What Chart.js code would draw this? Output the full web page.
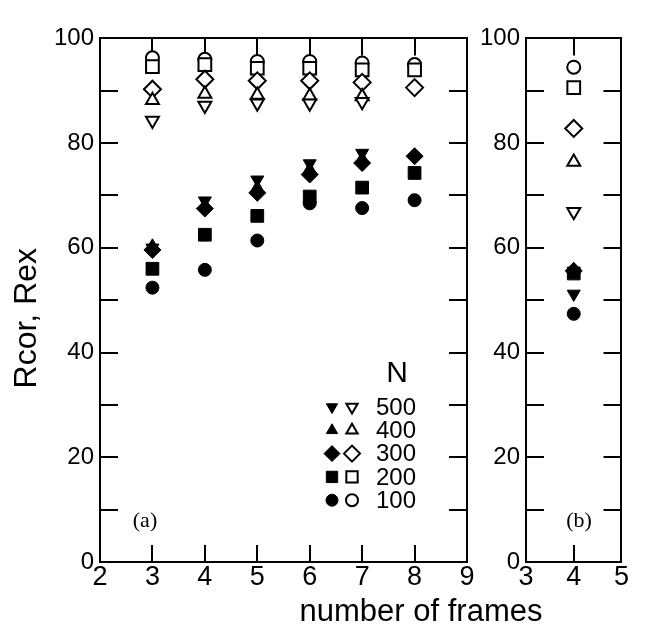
<!DOCTYPE html>
<html>
<head>
<meta charset="utf-8">
<script src="https://cdn.jsdelivr.net/npm/chart.js@4.4.0/dist/chart.umd.min.js"></script>
<style>
html, body { margin: 0; padding: 0; background: #fff; }
#wrap { position: relative; width: 645px; height: 637px; }
#left { position: absolute; left: 0; top: 0; }
#right { position: absolute; left: 470px; top: 0; }
</style>
</head>
<body>
<div id="wrap">
  <canvas id="left" width="645" height="637" style="width:645px;height:637px"></canvas>
  <canvas id="right" width="175" height="637" style="width:175px;height:637px"></canvas>
</div>
<script>
/////////////////////////////////////////////////////////////////////////////////

// Data
var framesA = [3, 4, 5, 6, 7, 8];      // panel (a)
var framesB = [4];                      // panel (b)
var sizes = ['500', '400', '300', '200', '100'];
var yTicks = [0, 20, 40, 60, 80, 100];

// panel (a), filled symbols
var filledA500 = [60.0, 69.0, 73.0, 76.1, 78.1, null];
var filledA400 = [60.3, 68.0, 71.5, 75.0, 77.0, null];
var filledA300 = [59.6, 67.5, 70.5, 74.0, 76.2, 77.5];
var filledA200 = [56.0, 62.5, 66.1, 69.8, 71.5, 74.3];
var filledA100 = [52.4, 55.8, 61.4, 68.5, 67.6, 69.1];
// panel (a), open symbols
var openA500 = [84.3, 87.2, 87.6, 87.6, 87.9, null];
var openA400 = [88.2, 89.4, 89.2, 89.0, 88.9, null];
var openA300 = [90.3, 92.2, 91.9, 91.9, 91.6, 90.6];
var openA200 = [94.6, 95.0, 94.3, 94.3, 94.0, 94.0];
var openA100 = [96.3, 96.0, 95.6, 95.6, 95.3, 95.0];
// panel (b)
var filledB500 = [51.2];
var filledB400 = [55.8];
var filledB300 = [55.6];
var filledB200 = [55.1];
var filledB100 = [47.4];
var openB500 = [66.9];
var openB400 = [76.4];
var openB300 = [82.8];
var openB200 = [90.6];
var openB100 = [94.5];

// symbol per N
var symbols = {
    '500': { pointStyle: 'triangle', rotation: 180, radius: 7.5 },
    '400': { pointStyle: 'triangle', rotation: 0, radius: 7.5 },
    '300': { pointStyle: 'rectRot', rotation: 0, radius: 8.5 },
    '200': { pointStyle: 'rect', rotation: 0, radius: 9 },
    '100': { pointStyle: 'circle', rotation: 0, radius: 6.5 }
};

var sans = "'Liberation Sans', Arial, Helvetica, sans-serif";
var serif = "'Liberation Serif', 'Times New Roman', serif";

function series(xs, ys, key, filled) {
    var s = symbols[key];
    var pts = [];
    xs.forEach(function (x, i) {
        if (ys[i] !== null) pts.push({ x: x, y: ys[i] });
    });
    return {
        label: (filled ? 'filled ' : 'open ') + key,
        data: pts,
        showLine: false,
        pointStyle: s.pointStyle,
        pointRotation: s.rotation,
        pointRadius: s.radius,
        pointHoverRadius: s.radius,
        pointBackgroundColor: filled ? '#000' : '#fff',
        pointBorderColor: '#000',
        pointBorderWidth: filled ? 1 : 2
    };
}

// frame with inward ticks
function grid(len) {
    return { display: true, drawOnChartArea: false, drawTicks: true, tickLength: -len, color: '#000', lineWidth: 2 };
}
var border = { display: true, color: '#000', width: 2 };

function scales(xmin, xmax, yWidth) {
    return {
        x: {
            type: 'linear', position: 'bottom', min: xmin, max: xmax,
            ticks: { stepSize: 1, color: '#000', padding: 16, font: { family: sans, size: 27 } },
            grid: grid(17), border: border,
            afterFit: function (s) { s.height = 75; }
        },
        x2: {
            type: 'linear', position: 'top', min: xmin, max: xmax,
            ticks: { stepSize: 1, display: false },
            grid: grid(17), border: border,
            afterFit: function (s) { s.height = 0; }
        },
        y: {
            type: 'linear', position: 'left', min: 0, max: 100,
            ticks: {
                stepSize: 10, color: '#000', padding: 24, font: { family: sans, size: 24 },
                callback: function (v) { return yTicks.indexOf(v) >= 0 ? v : ''; }
            },
            grid: grid(18), border: border,
            afterFit: function (s) { s.width = yWidth; }
        },
        y2: {
            type: 'linear', position: 'right', min: 0, max: 100,
            ticks: { stepSize: 10, display: false },
            grid: grid(18), border: border,
            afterFit: function (s) { s.width = 0; }
        }
    };
}

// texts drawn on top: panel tag, axis titles, legend
var panelText = {
    id: 'panelText',
    afterDraw: function (chart, args, o) {
        var ctx = chart.ctx, a = chart.chartArea;
        ctx.save();
        ctx.fillStyle = '#000';
        ctx.strokeStyle = '#000';
        ctx.textBaseline = 'middle';
        ctx.textAlign = 'center';
        ctx.font = '22px ' + serif;
        ctx.fillText(o.tag, a.left + o.tagDx, a.bottom - 41);

        if (o.full) {
            ctx.font = '31px ' + sans;
            ctx.fillText('number of frames', a.right - 46, a.bottom + 50);

            ctx.save();
            ctx.translate(27, (a.top + a.bottom) / 2 + 18);
            ctx.rotate(-Math.PI / 2);
            ctx.font = '32px ' + sans;
            ctx.fillText('Rcor, Rex', 0, 0);
            ctx.restore();

            // legend
            ctx.font = '30px ' + sans;
            ctx.fillText('N', a.right - 70, a.bottom - 188);
            ctx.font = '24px ' + sans;
            ctx.textAlign = 'left';
            sizes.forEach(function (key, i) {
                var y = a.bottom - 155 + i * 23.3;
                var s = symbols[key];
                var r = key === '300' ? 8 : (key === '200' ? 8 : (key === '100' ? 6 : 6.5));
                ctx.fillStyle = '#000';
                ctx.lineWidth = 1;
                Chart.helpers.drawPoint(ctx, { pointStyle: s.pointStyle, rotation: s.rotation, radius: r, borderWidth: 1 }, a.right - 135, y);
                ctx.fillStyle = '#fff';
                ctx.lineWidth = 2;
                Chart.helpers.drawPoint(ctx, { pointStyle: s.pointStyle, rotation: s.rotation, radius: r, borderWidth: 2 }, a.right - 115, y);
                ctx.fillStyle = '#000';
                ctx.fillText(key, a.right - 91, y + 1);
            });
        }
        ctx.restore();
    }
};

function build(xs, filled, open) {
    var ds = [];
    sizes.forEach(function (key, i) { ds.push(series(xs, open[i], key, false)); });
    sizes.forEach(function (key, i) { ds.push(series(xs, filled[i], key, true)); });
    return ds;
}

var chartA = new Chart(document.getElementById('left'), {
    type: 'scatter',
    data: {
        datasets: build(framesA,
            [filledA500, filledA400, filledA300, filledA200, filledA100],
            [openA500, openA400, openA300, openA200, openA100])
    },
    options: {
        responsive: false,
        animation: false,
        layout: { padding: { top: 21, right: 178, bottom: 0, left: 0 } },
        scales: scales(2, 9, 100),
        plugins: {
            legend: { display: false },
            tooltip: { enabled: false },
            panelText: { tag: '(a)', tagDx: 45, full: true }
        }
    },
    plugins: [panelText]
});

var chartB = new Chart(document.getElementById('right'), {
    type: 'scatter',
    data: {
        datasets: build(framesB,
            [filledB500, filledB400, filledB300, filledB200, filledB100],
            [openB500, openB400, openB300, openB200, openB100])
    },
    options: {
        responsive: false,
        animation: false,
        layout: { padding: { top: 21, right: 13, bottom: 0, left: 0 } },
        scales: scales(3, 5, 56),
        plugins: {
            legend: { display: false },
            tooltip: { enabled: false },
            panelText: { tag: '(b)', tagDx: 53, full: false }
        }
    },
    plugins: [panelText]
});

//////////////////////////////////////////////////////////////////////////////////
</script>
</body>
</html>
